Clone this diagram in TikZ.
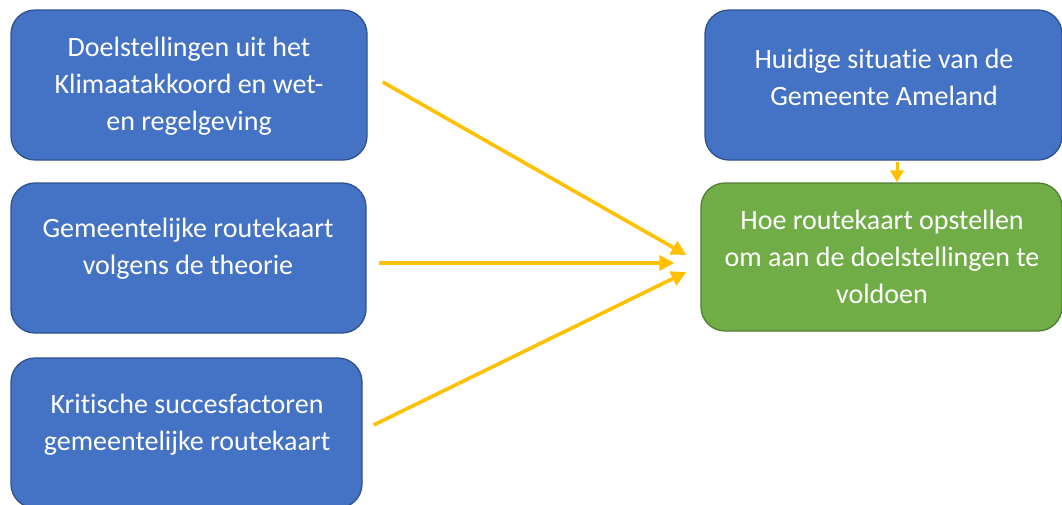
\documentclass[tikz,border=0pt]{standalone}
\usepackage{fontspec}
\setmainfont{Carlito}[Ligatures=NoCommon]
\usetikzlibrary{arrows.meta,calc}
\definecolor{boxblue}{HTML}{4472C4}
\definecolor{boxblueline}{HTML}{2F528F}
\definecolor{boxgreen}{HTML}{70AD47}
\definecolor{boxgreenline}{HTML}{507E32}
\definecolor{arrowgold}{HTML}{FFC000}
\tikzset{
  bluebox/.style={draw=boxblueline, fill=boxblue, line width=1.3pt, rounded corners=24pt, inner sep=0pt},
  greenbox/.style={draw=boxgreenline, fill=boxgreen, line width=1.3pt, rounded corners=24pt, inner sep=0pt},
  boxtext/.style={text=white, align=center, font=\fontsize{28}{37}\selectfont, inner sep=0pt},
  goldarrow/.style={draw=arrowgold, line width=3.6pt, -{Triangle[length=15pt,width=15pt]}}
}
\begin{document}
\begin{tikzpicture}[x=1pt,y=-1pt]
\useasboundingbox (0,0) rectangle (1062,504);
\clip (0,0) rectangle (1062,504);
\node[bluebox, minimum width=356pt, minimum height=150pt] (b1) at (189,85) {};
\node[bluebox, minimum width=355pt, minimum height=150pt] (b2) at (188.5,258) {};
\node[bluebox, minimum width=351pt, minimum height=150pt] (b3) at (186.5,433) {};
\node[bluebox, minimum width=357pt, minimum height=150pt] (b4) at (883.5,85) {};
\node[greenbox, minimum width=361pt, minimum height=148pt] (g) at (881.5,257) {};
\node[boxtext] (t1) at (189,86) {Doelstellingen uit het\\Klimaatakkoord en wet-\\en regelgeving};
\node[boxtext] (t2) at (188,249) {Gemeentelijke routekaart\\volgens de theorie};
\node[boxtext] (t3) at (187,425) {Kritische succesfactoren\\gemeentelijke routekaart};
\node[boxtext] (t4) at (884,77) {Huidige situatie van de\\Gemeente Ameland};
\node[boxtext] (tg) at (882,257) {Hoe routekaart opstellen\\om aan de doelstellingen te\\voldoen};
\coordinate (s1) at ($(b1.east)+(15,-3)$);
\coordinate (e1) at ($(g.west)+(-14,-2)$);
\coordinate (s2) at ($(b2.east)+(12,5)$);
\coordinate (e2) at ($(g.west)+(-26,6)$);
\coordinate (s3) at ($(b3.east)+(11,-8)$);
\coordinate (e3) at ($(g.west)+(-14,15)$);
\draw[goldarrow] (s1) -- (e1);
\draw[goldarrow] (s2) -- (e2);
\draw[goldarrow] (s3) -- (e3);
\draw[goldarrow, line width=3pt, -{Triangle[length=12pt,width=13pt]}] ($(b4.south)+(13.5,1)$) -- ($(g.north)+(15.5,0)$);
\end{tikzpicture}
\end{document}
